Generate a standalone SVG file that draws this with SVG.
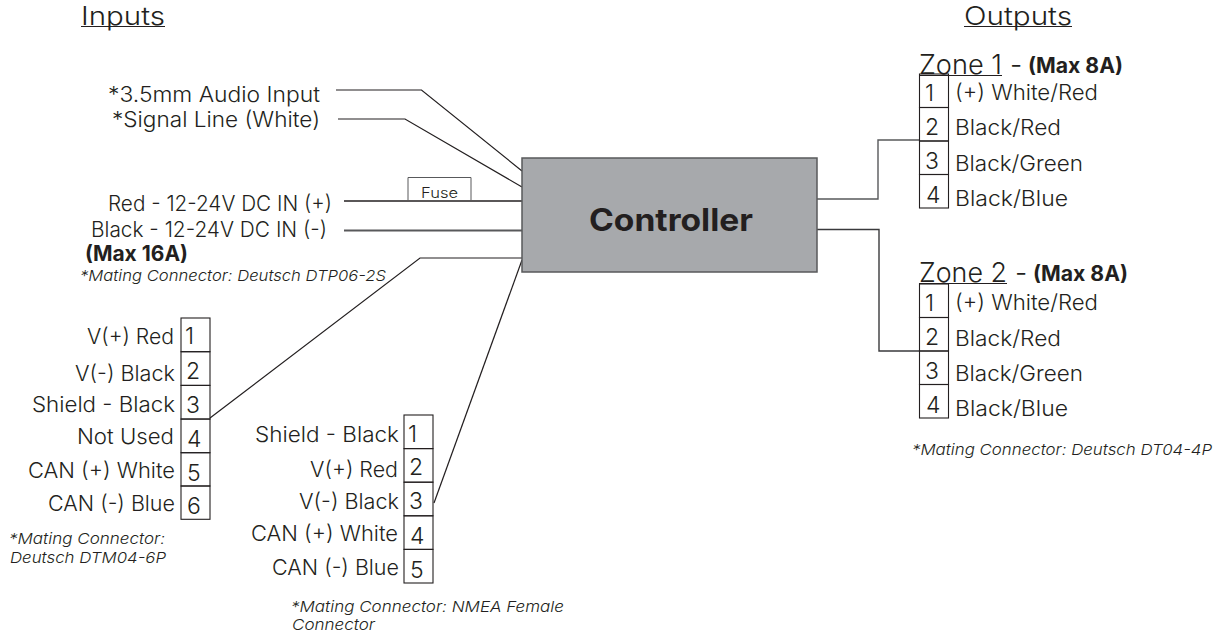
<svg xmlns="http://www.w3.org/2000/svg" width="1226" height="635" viewBox="0 0 1226 635">
<style>
text{font-family:"Inter","Noto Sans","Liberation Sans",sans-serif;fill:#231f20;font-weight:300}
.h{font-size:25.500px}
.z{font-size:27px}
.l{font-size:21.500px}
.n{font-size:23px}
.b{font-size:21px;font-weight:700}
.m{font-size:15px;font-style:italic}
.w{fill:none;stroke:#231f20;stroke-width:1.2}
.t{fill:none;stroke:#231f20;stroke-width:1.1}
.u{stroke:#231f20;stroke-width:1.2}
</style>
<rect width="1226" height="635" fill="#fff"/>
<g id="connectors">
<path class="w" d="M336 90H421.500L522 171"/>
<path class="w" d="M338 119H405L522 187"/>
<path class="w" d="M344 201H522" style="stroke-width:1.6"/>
<path class="w" d="M344 230.500H522" style="stroke:#58595b;stroke-width:1.8"/>
<path class="w" d="M522 258H420L210 418"/>
<path class="w" d="M522 260L434 503"/>
<path class="w" d="M817 199H878V140H919" style="stroke:#58595b;stroke-width:1.4"/>
<path class="w" d="M817 229.500H879V351H919" style="stroke:#3a3a3c;stroke-width:1.4"/>
</g>
<g id="headers">
<text class="h" x="81" y="25" textLength="84" lengthAdjust="spacingAndGlyphs">Inputs</text>
<line class="u" x1="81" y1="26.500" x2="165" y2="26.500"/>
<text class="h" x="964" y="25" textLength="108" lengthAdjust="spacingAndGlyphs">Outputs</text>
<line class="u" x1="964" y1="26.500" x2="1072" y2="26.500"/>
</g>
<g id="controller">
<rect x="522" y="158" width="295" height="114" fill="#a7a9ac" stroke="#58595b" stroke-width="1.5"/>
<text x="589" y="231" font-size="31" style="font-weight:700" textLength="164" lengthAdjust="spacingAndGlyphs">Controller</text>
</g>
<g id="fuse">
<path d="M408 200V177.500H471V200" fill="#fff" stroke="#58595b" stroke-width="1"/>
<text x="421" y="198" font-size="14.500" textLength="37" lengthAdjust="spacingAndGlyphs">Fuse</text>
</g>
<g id="audio-inputs">
<text class="l" x="108" y="102" textLength="212" lengthAdjust="spacingAndGlyphs">*3.5mm Audio Input</text>
<text class="l" x="112" y="127" textLength="208" lengthAdjust="spacingAndGlyphs">*Signal Line (White)</text>
</g>
<g id="power-input">
<text class="l" x="108" y="211" textLength="224" lengthAdjust="spacingAndGlyphs">Red - 12-24V DC IN (+)</text>
<text class="l" x="91" y="237" textLength="236" lengthAdjust="spacingAndGlyphs">Black - 12-24V DC IN (-)</text>
<text class="b" x="85" y="261" textLength="103" lengthAdjust="spacingAndGlyphs">(Max 16A)</text>
<text class="m" x="80" y="281" textLength="306" lengthAdjust="spacingAndGlyphs">*Mating Connector: Deutsch DTP06-2S</text>
</g>
<g id="connector-6pin">
<g class="t"><rect x="181" y="318" width="29" height="33.700"/><rect x="181" y="351.700" width="29" height="33.700"/><rect x="181" y="385.400" width="29" height="33.700"/><rect x="181" y="419" width="29" height="33.700"/><rect x="181" y="452.700" width="29" height="33.300"/><rect x="181" y="486" width="29" height="33.300"/></g>
<text class="n" x="185" y="344">1</text><text class="n" x="186" y="379">2</text><text class="n" x="186" y="413">3</text><text class="n" x="187" y="447">4</text><text class="n" x="187" y="481">5</text><text class="n" x="187" y="514">6</text>
<text class="l" x="87" y="344" textLength="87" lengthAdjust="spacingAndGlyphs">V(+) Red</text>
<text class="l" x="75" y="381" textLength="100" lengthAdjust="spacingAndGlyphs">V(-) Black</text>
<text class="l" x="32" y="412" textLength="143" lengthAdjust="spacingAndGlyphs">Shield - Black</text>
<text class="l" x="77" y="444" textLength="97" lengthAdjust="spacingAndGlyphs">Not Used</text>
<text class="l" x="28" y="478" textLength="147" lengthAdjust="spacingAndGlyphs">CAN (+) White</text>
<text class="l" x="48" y="511" textLength="127" lengthAdjust="spacingAndGlyphs">CAN (-) Blue</text>
<text class="m" x="9" y="544" textLength="156" lengthAdjust="spacingAndGlyphs">*Mating Connector:</text>
<text class="m" x="10" y="563" textLength="156" lengthAdjust="spacingAndGlyphs">Deutsch DTM04-6P</text>
</g>
<g id="connector-5pin">
<g class="t"><rect x="404" y="415" width="29" height="33.600"/><rect x="404" y="448.600" width="29" height="33.600"/><rect x="404" y="482.200" width="29" height="33.600"/><rect x="404" y="515.800" width="29" height="33.600"/><rect x="404" y="549.400" width="29" height="33.600"/></g>
<text class="n" x="408" y="442">1</text><text class="n" x="409" y="475">2</text><text class="n" x="409" y="509">3</text><text class="n" x="410" y="544">4</text><text class="n" x="410" y="578">5</text>
<text class="l" x="255" y="442" textLength="144" lengthAdjust="spacingAndGlyphs">Shield - Black</text>
<text class="l" x="310" y="477" textLength="88" lengthAdjust="spacingAndGlyphs">V(+) Red</text>
<text class="l" x="299" y="509" textLength="100" lengthAdjust="spacingAndGlyphs">V(-) Black</text>
<text class="l" x="251" y="541" textLength="147" lengthAdjust="spacingAndGlyphs">CAN (+) White</text>
<text class="l" x="272" y="575" textLength="127" lengthAdjust="spacingAndGlyphs">CAN (-) Blue</text>
<text class="m" x="291" y="612" textLength="273" lengthAdjust="spacingAndGlyphs">*Mating Connector: NMEA Female</text>
<text class="m" x="292" y="630" textLength="83" lengthAdjust="spacingAndGlyphs">Connector</text>
</g>
<g id="zone-1">
<text class="z" x="919" y="74" textLength="83" lengthAdjust="spacingAndGlyphs">Zone 1</text>
<line class="u" x1="919" y1="75.500" x2="1002" y2="75.500"/>
<text class="z" x="1010" y="74">-</text>
<text class="b" x="1028" y="73" textLength="95" lengthAdjust="spacingAndGlyphs">(Max 8A)</text>
<g class="t"><rect x="919.500" y="74" width="29" height="33.500"/><rect x="919.500" y="107.500" width="29" height="33.500"/><rect x="919.500" y="141" width="29" height="33.500"/><rect x="919.500" y="174.500" width="29" height="33.500"/></g>
<text class="n" x="925" y="101">1</text><text class="n" x="925" y="135">2</text><text class="n" x="925" y="169">3</text><text class="n" x="926" y="203">4</text>
<text class="l" x="955" y="100" textLength="143" lengthAdjust="spacingAndGlyphs">(+) White/Red</text>
<text class="l" x="955" y="135" textLength="106" lengthAdjust="spacingAndGlyphs">Black/Red</text>
<text class="l" x="955" y="171" textLength="128" lengthAdjust="spacingAndGlyphs">Black/Green</text>
<text class="l" x="955" y="206" textLength="113" lengthAdjust="spacingAndGlyphs">Black/Blue</text>
</g>
<g id="zone-2">
<text class="z" x="919" y="282" textLength="88" lengthAdjust="spacingAndGlyphs">Zone 2</text>
<line class="u" x1="919" y1="283.500" x2="1007" y2="283.500"/>
<text class="z" x="1015" y="282">-</text>
<text class="b" x="1033" y="281" textLength="95" lengthAdjust="spacingAndGlyphs">(Max 8A)</text>
<g class="t"><rect x="919.500" y="284" width="29" height="33.500"/><rect x="919.500" y="317.500" width="29" height="33.500"/><rect x="919.500" y="351" width="29" height="33.500"/><rect x="919.500" y="384.500" width="29" height="33.500"/></g>
<text class="n" x="925" y="311">1</text><text class="n" x="925" y="345">2</text><text class="n" x="925" y="379">3</text><text class="n" x="926" y="413">4</text>
<text class="l" x="955" y="310" textLength="143" lengthAdjust="spacingAndGlyphs">(+) White/Red</text>
<text class="l" x="955" y="346" textLength="106" lengthAdjust="spacingAndGlyphs">Black/Red</text>
<text class="l" x="955" y="381" textLength="128" lengthAdjust="spacingAndGlyphs">Black/Green</text>
<text class="l" x="955" y="416" textLength="113" lengthAdjust="spacingAndGlyphs">Black/Blue</text>
<text class="m" x="912" y="455" textLength="300" lengthAdjust="spacingAndGlyphs">*Mating Connector: Deutsch DT04-4P</text>
</g>
</svg>
